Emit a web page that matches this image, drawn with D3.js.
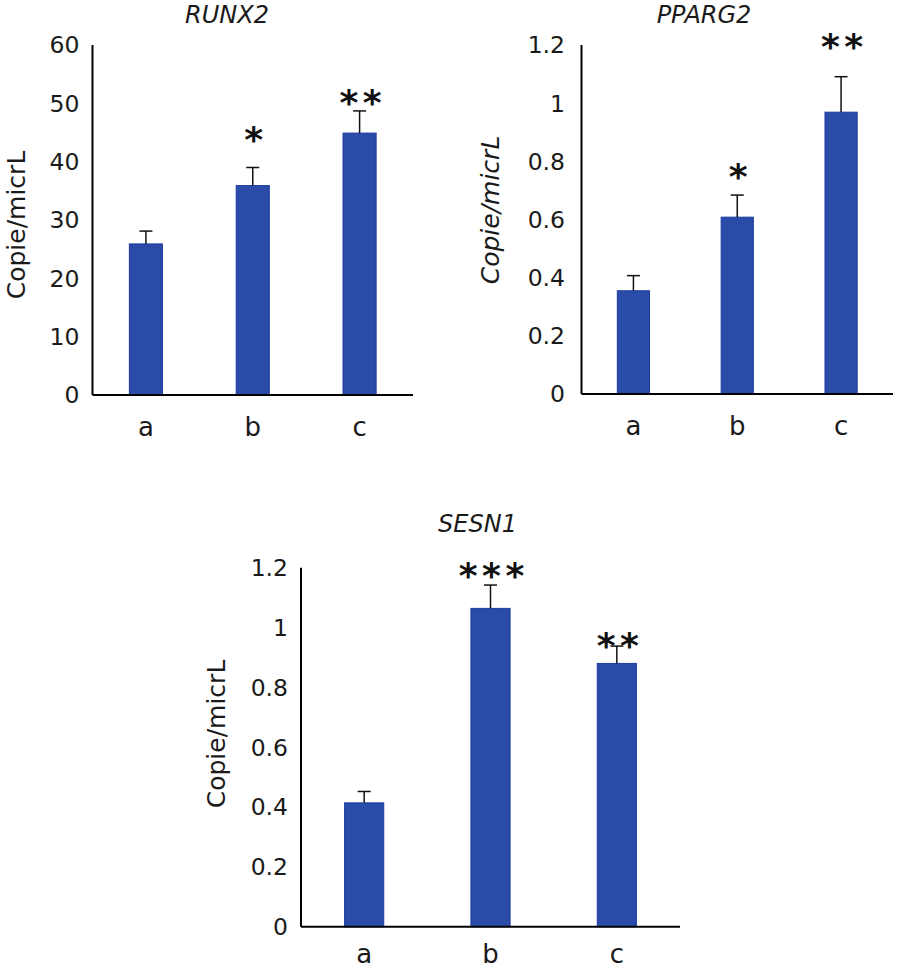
<!DOCTYPE html>
<html>
<head>
<meta charset="utf-8">
<script src="https://cdn.jsdelivr.net/npm/d3@7"></script>
<style>
  html, body { margin: 0; padding: 0; background: #fff; }
  svg { display: block; }
</style>
</head>
<body>
<svg id="chart" width="898" height="970"></svg>
<script>
// ---- data ----
const categories = ["a", "b", "c"];

const runx2Values = [25.9, 35.9, 44.9];
const runx2Errors = [2.2, 3.1, 3.8];
const runx2Stars = ["", "*", "**"];
const runx2Ticks = [0, 10, 20, 30, 40, 50, 60];

const ppargValues = [0.355, 0.608, 0.969];
const ppargErrors = [0.052, 0.076, 0.122];
const ppargStars = ["", "*", "**"];
const ppargTicks = [0, 0.2, 0.4, 0.6, 0.8, 1, 1.2];

const sesnValues = [0.414, 1.064, 0.880];
const sesnErrors = [0.038, 0.078, 0.058];
const sesnStars = ["", "***", "**"];
const sesnTicks = [0, 0.2, 0.4, 0.6, 0.8, 1, 1.2];

const titles = ["RUNX2", "PPARG2", "SESN1"];
const yLabel = "Copie/micrL";

// ---- drawing ----
const svg = d3.select("#chart");
const FONT = "'DejaVu Sans', sans-serif";
const BAR_FILL = "#2a4ba8";
const BAR_STROKE = "#1d3ca2";
const STAR_FS = 36;
const STAR_LS = 4.5;

function drawPanel(p) {
  const g = svg.append("g");
  const x = d3.scaleBand().domain(categories).range([p.x0, p.x1]).padding(0);
  const y = d3.scaleLinear().domain([0, p.max]).range([p.yBase, p.yTop]);
  const bw = x.bandwidth() * 0.31;
  const cx = c => x(c) + x.bandwidth() / 2;

  // y tick labels
  g.selectAll(".ytick").data(p.ticks).join("text")
    .attr("x", p.x0 - p.tickGap)
    .attr("y", d => y(d))
    .attr("dy", "0.36em")
    .attr("text-anchor", "end")
    .attr("font-family", FONT)
    .attr("font-size", 23.5)
    .attr("fill", "#1a1a1a")
    .text(d => String(d));

  // bars
  g.selectAll(".bar").data(p.values).join("rect")
    .attr("x", (d, i) => cx(categories[i]) - bw / 2)
    .attr("y", d => y(d))
    .attr("width", bw)
    .attr("height", d => y(0) - y(d))
    .attr("fill", BAR_FILL)
    .attr("stroke", BAR_STROKE)
    .attr("stroke-width", 1);

  // error bars
  const eg = g.selectAll(".err").data(p.values).join("g");
  eg.append("line")
    .attr("x1", (d, i) => cx(categories[i]))
    .attr("x2", (d, i) => cx(categories[i]))
    .attr("y1", d => y(d))
    .attr("y2", (d, i) => y(d + p.errors[i]))
    .attr("stroke", "#111").attr("stroke-width", 1.5);
  eg.append("line")
    .attr("x1", (d, i) => cx(categories[i]) - 6.5)
    .attr("x2", (d, i) => cx(categories[i]) + 6.5)
    .attr("y1", (d, i) => y(d + p.errors[i]))
    .attr("y2", (d, i) => y(d + p.errors[i]))
    .attr("stroke", "#111").attr("stroke-width", 1.5);

  // significance stars (offset = centre of the stars above the error cap)
  g.selectAll(".star").data(p.stars).join("text")
    .attr("x", (d, i) => cx(categories[i]) + STAR_LS / 2 + 1)
    .attr("y", (d, i) => y(p.values[i] + p.errors[i]) - p.starOffset[i] + 0.46 * STAR_FS)
    .attr("text-anchor", "middle")
    .attr("font-family", FONT)
    .attr("font-weight", "bold")
    .attr("font-size", STAR_FS)
    .attr("letter-spacing", STAR_LS)
    .attr("fill", "#111")
    .text(d => d);

  // axes lines
  g.append("line")
    .attr("x1", p.x0).attr("x2", p.x0)
    .attr("y1", p.yTop).attr("y2", p.yBase)
    .attr("stroke", "#000").attr("stroke-width", 2);
  g.append("line")
    .attr("x1", p.x0).attr("x2", p.x1)
    .attr("y1", p.yBase).attr("y2", p.yBase)
    .attr("stroke", "#000").attr("stroke-width", 2);

  // x labels
  g.selectAll(".xlab").data(categories).join("text")
    .attr("x", d => cx(d))
    .attr("y", p.xLabelY)
    .attr("text-anchor", "middle")
    .attr("font-family", FONT)
    .attr("font-size", 26)
    .attr("fill", "#1a1a1a")
    .text(d => d);

  // title
  g.append("text")
    .attr("x", p.titleX).attr("y", p.titleY)
    .attr("text-anchor", "middle")
    .attr("font-family", FONT)
    .attr("font-style", "italic")
    .attr("font-size", 24)
    .attr("fill", "#1a1a1a")
    .text(p.title);

  // y label
  g.append("text")
    .attr("transform", `translate(${p.yLabelX},${p.yLabelY}) rotate(-90)`)
    .attr("text-anchor", "middle")
    .attr("font-family", FONT)
    .attr("font-style", p.yItalic ? "italic" : "normal")
    .attr("font-size", 25)
    .attr("fill", "#1a1a1a")
    .text(yLabel);
}

drawPanel({
  x0: 92.5, x1: 413, yTop: 45, yBase: 395, max: 60, tickGap: 13,
  ticks: runx2Ticks, values: runx2Values, errors: runx2Errors, stars: runx2Stars,
  starOffset: [0, 32, 12],
  xLabelY: 436, title: titles[0], titleX: 227, titleY: 22.5,
  yLabelX: 25, yLabelY: 225, yItalic: false
});

drawPanel({
  x0: 581.5, x1: 893, yTop: 45, yBase: 394, max: 1.2, tickGap: 16.5,
  ticks: ppargTicks, values: ppargValues, errors: ppargErrors, stars: ppargStars,
  starOffset: [0, 23, 34],
  xLabelY: 435, title: titles[1], titleX: 704, titleY: 22.5,
  yLabelX: 499, yLabelY: 210, yItalic: true
});

drawPanel({
  x0: 301, x1: 680, yTop: 567.7, yBase: 926.7, max: 1.2, tickGap: 13,
  ticks: sesnTicks, values: sesnValues, errors: sesnErrors, stars: sesnStars,
  starOffset: [0, 14, 5],
  xLabelY: 963, title: titles[2], titleX: 477.5, titleY: 531.5,
  yLabelX: 225, yLabelY: 734, yItalic: false
});
</script>
</body>
</html>
